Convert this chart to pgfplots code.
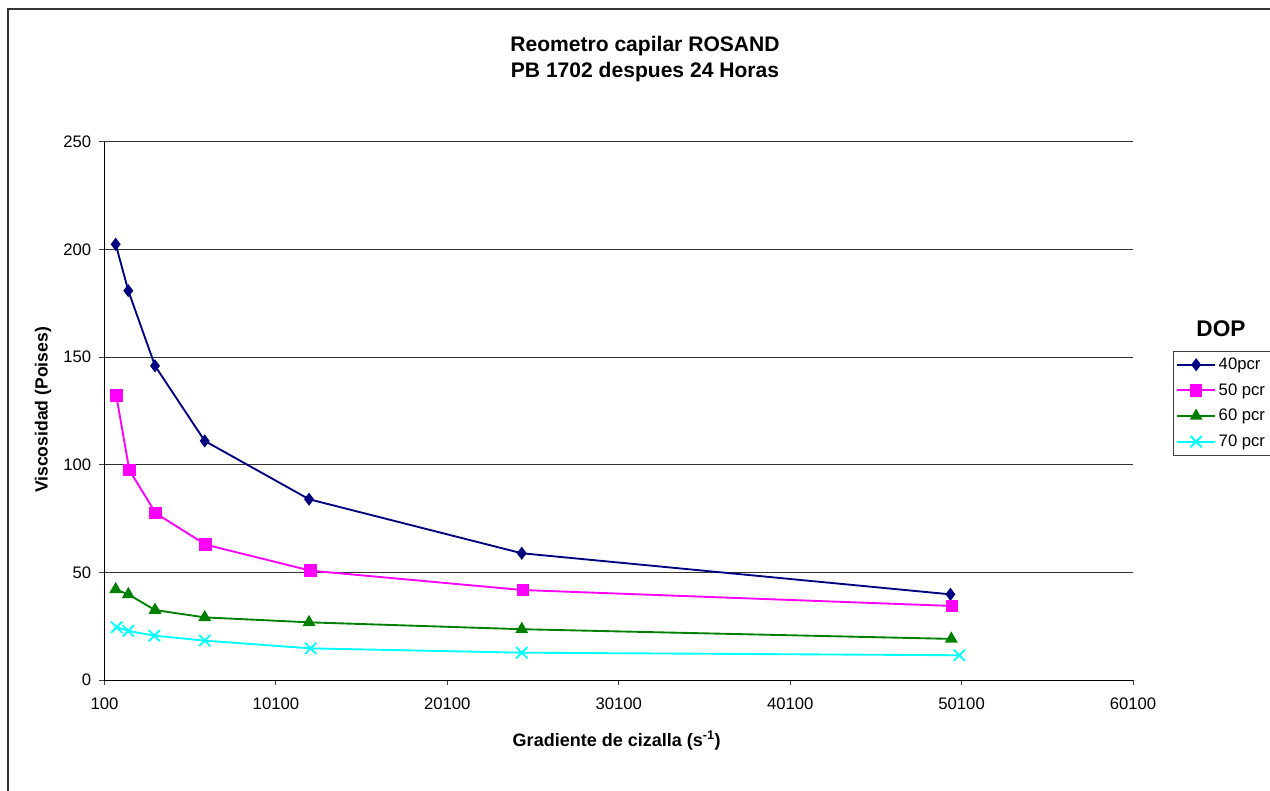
\documentclass[border=0pt]{standalone}
\usepackage{fontspec}
\setmainfont{Liberation Sans}
\usepackage{pgfplots}
\pgfplotsset{compat=1.18}

\definecolor{c40}{RGB}{0,0,128}
\definecolor{c50}{RGB}{255,0,255}
\definecolor{c60}{RGB}{0,128,0}
\definecolor{c70}{RGB}{0,255,255}

\begin{document}
\begin{tikzpicture}
% page 1270x790 px, 1 px = 0.75pt
\path[use as bounding box] (0,0) rectangle (952.5pt,592.5pt);
\clip (0,0) rectangle (952.5pt,592.5pt);
% outer chart frame (runs off the right and bottom edges)
\draw[line width=1.1pt, black!80] (6pt,-5pt) -- (6pt,585.75pt) -- (960pt,585.75pt);

\begin{axis}[
    at={(78.375pt,82.5pt)}, anchor=south west,
    scale only axis,
    width=771.4pt, height=403.5pt,
    xmin=100, xmax=60100, ymin=0, ymax=250,
    axis lines*=left,
    axis line style={black, line width=0.75pt},
    xtick={100,10100,20100,30100,40100,50100,60100},
    xticklabels={100,10100,20100,30100,40100,50100,60100},
    ytick={0,50,100,150,200,250},
    scaled x ticks=false,
    tick align=outside,
    major tick length=4pt,
    tick style={black!75, line width=0.75pt},
    ymajorgrids,
    grid style={black!80, line width=0.75pt},
    tick label style={font=\fontsize{12.5}{15}\selectfont},
    xticklabel style={yshift=-6pt},
    yticklabel style={xshift=-2.5pt},
    /pgf/number format/assume math mode=true,
    xlabel={Gradiente de cizalla (s\textsuperscript{-1})},
    ylabel={Viscosidad (Poises)},
    xlabel style={font=\bfseries\fontsize{13.5}{16}\selectfont,
        at={(axis description cs:0.498,-0.1227)}, anchor=base},
    ylabel style={font=\bfseries\fontsize{13.2}{16}\selectfont,
        at={(axis description cs:-0.0598,0.502)}, anchor=center},
    clip=false,
    legend cell align=left,
    legend style={
        at={(1.0389,0.612)}, anchor=north west,
        font=\fontsize{12.5}{15}\selectfont,
        draw=black!75, line width=0.75pt,
        inner xsep=2pt, inner ysep=3pt,
        row sep=5pt,
    },
    legend image code/.code={%
        \draw[mark repeat=2, mark phase=2] plot coordinates {(0pt,0pt) (14.25pt,0pt) (28.5pt,0pt)};},
]

\addplot[color=c40, line width=1.4pt, mark=diamond*, mark size=3.8pt] coordinates {
    (753,202.5) (1489,180.9) (3046,146.0) (5946,111.1) (12031,84.0) (24441,58.9) (49447,39.8)};
\addlegendentry{40pcr}

\addplot[color=c50, line width=1.4pt, mark=square*, mark size=4pt] coordinates {
    (788,132.1) (1547,97.6) (3087,77.5) (6004,62.9) (12130,50.8) (24500,41.8) (49550,34.4)};
\addlegendentry{50 pcr}

\addplot[color=c60, line width=1.4pt, mark=triangle*, mark size=4.2pt] coordinates {
    (753,42.1) (1489,39.8) (3046,32.5) (5946,29.1) (12031,26.8) (24441,23.6) (49500,19.1)};
\addlegendentry{60 pcr}

\addplot[color=c70, line width=1.4pt, mark=x, mark size=6pt] coordinates {
    (812,24.5) (1489,22.8) (3005,20.6) (5946,18.3) (12130,14.7) (24441,12.7) (49970,11.5)};
\addlegendentry{70 pcr}

% chart title
\node[font=\bfseries\fontsize{15.8}{19}\selectfont, anchor=base] at (axis description cs:0.5255,1.168) {Reometro capilar ROSAND};
\node[font=\bfseries\fontsize{15.8}{19}\selectfont, anchor=base] at (axis description cs:0.5255,1.1196) {PB 1702 despues 24 Horas};
% legend title
\node[font=\bfseries\fontsize{17}{20}\selectfont, anchor=base] at (axis description cs:1.0855,0.6383) {DOP};
\end{axis}
\end{tikzpicture}
\end{document}
